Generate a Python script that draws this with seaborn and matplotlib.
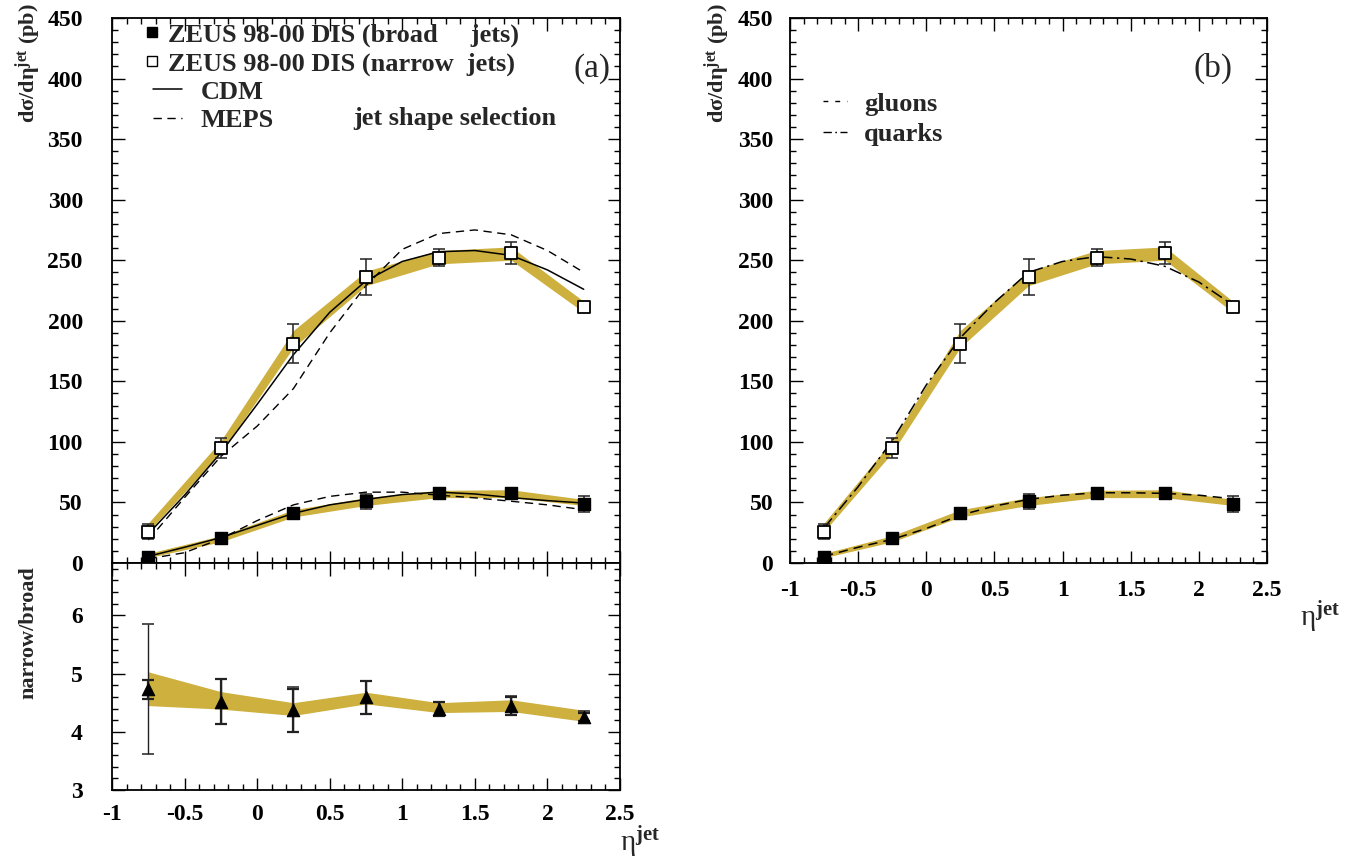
import numpy as np
import pandas as pd
import matplotlib
matplotlib.use("Agg")
import matplotlib.pyplot as plt
import seaborn as sns
from matplotlib.ticker import MultipleLocator, FixedLocator, FixedFormatter
from matplotlib.lines import Line2D

# ---------------- data ----------------
eta = [-0.75, -0.25, 0.25, 0.75, 1.25, 1.75, 2.25]
narrow = [26, 95, 181, 236, 252, 256, 211]
narrow_err = [6, 8, 16, 15, 7, 9, 3]
narrow_band_lo = [26, 91, 178, 229, 247, 250, 207]
narrow_band_hi = [33, 101, 192, 241, 258, 261, 216]
broad = [5, 21, 41, 51, 57.5, 57.5, 49]
broad_err = [1, 1.5, 2.5, 6, 2.5, 2.5, 6.5]
broad_band_lo = [4.4, 17.5, 38, 47.5, 54, 54, 47.5]
broad_band_hi = [8, 22.5, 44, 54, 60, 60.5, 52.5]

ratio = [4.73, 4.52, 4.37, 4.59, 4.39, 4.44, 4.25]
ratio_err_lo = [1.12, 0.38, 0.37, 0.28, 0.12, 0.16, 0.07]
ratio_err_hi = [1.12, 0.38, 0.40, 0.28, 0.12, 0.17, 0.11]
ratio_stat = [0.16, 0.38, 0.37, 0.28, 0.12, 0.16, 0.07]
ratio_band_lo = [4.45, 4.39, 4.28, 4.48, 4.33, 4.35, 4.18]
ratio_band_hi = [5.03, 4.69, 4.50, 4.68, 4.50, 4.55, 4.37]

model_eta = [-0.75, -0.5, -0.25, 0.0, 0.25, 0.5, 0.75, 1.0, 1.25, 1.5, 1.75, 2.0, 2.25]
cdm_narrow = [24, 56, 91, 131, 172, 207, 233, 249, 257, 258, 254, 242, 226]
meps_narrow = [19, 54, 88, 113, 144, 190, 229, 259, 272, 275, 271, 258, 240]
cdm_broad = [5.5, 13, 21, 31, 41, 48, 52.5, 56.5, 58.5, 57, 54, 51.5, 49.5]
meps_broad = [3.5, 8.5, 20, 35, 48, 55, 58.5, 58.5, 56, 53.8, 51, 48, 44]
quarks = [29, 63, 101, 147, 186, 215, 240, 249, 253, 251, 245, 232, 213]
gluons = [5.5, 13, 19.5, 28.5, 39.5, 47, 52.5, 56, 58, 58, 57.5, 56, 53]

x_ticks = [-1, -0.5, 0, 0.5, 1, 1.5, 2, 2.5]
x_ticklabels = ["-1", "-0.5", "0", "0.5", "1", "1.5", "2", "2.5"]
y_ticks = [0, 50, 100, 150, 200, 250, 300, 350, 400, 450]
y_ticklabels = [str(v) for v in y_ticks]
r_ticks = [3, 4, 5, 6]
r_ticklabels = ["3", "4", "5", "6"]

leg_data = ["ZEUS 98-00 DIS (broad     jets)", "ZEUS 98-00 DIS (narrow  jets)"]
leg_models = ["CDM", "MEPS"]
leg_flavour = ["gluons", "quarks"]
ylabel = "d\u03c3/d\u03b7$^{\\mathbf{jet}}$ (pb)"
xlabel = "\u03b7$^{\\mathbf{jet}}$"

# ---------------- style ----------------
sns.set_theme(style="ticks")
plt.rcParams["font.family"] = ["Liberation Serif", "DejaVu Serif"]
plt.rcParams["font.weight"] = "bold"
plt.rcParams["mathtext.fontset"] = "custom"
plt.rcParams["mathtext.bf"] = "Liberation Serif:bold"
plt.rcParams["mathtext.rm"] = "Liberation Serif:bold"
plt.rcParams["mathtext.it"] = "Liberation Serif:bold:italic"

GOLD = "#CDB03D"
DASH = (0, (6, 4))
DASHDOT = (0, (8, 3, 1.5, 3))

W, H = 1356, 860
fig = plt.figure(figsize=(W / 100, H / 100), dpi=100)
fig.patch.set_facecolor("white")

def px_axes(left, top, right, bottom):
    return fig.add_axes([left / W, (H - bottom) / H, (right - left) / W, (bottom - top) / H])

ax_a = px_axes(112, 18, 620, 563)
ax_r = px_axes(112, 563, 620, 790)
ax_b = px_axes(790, 18, 1267, 563)

TICKFS = 17

def style_axis(ax, ylim, yminor, ylabels, yticks, show_x, ypad, xpad):
    ax.set_facecolor("white")
    ax.set_xlim(-1, 2.5)
    ax.set_ylim(*ylim)
    ax.xaxis.set_major_locator(FixedLocator(x_ticks))
    ax.xaxis.set_minor_locator(MultipleLocator(0.1))
    ax.yaxis.set_major_locator(FixedLocator(yticks))
    ax.yaxis.set_minor_locator(MultipleLocator(yminor))
    if show_x:
        ax.xaxis.set_major_formatter(FixedFormatter(x_ticklabels))
    else:
        ax.set_xticklabels([])
    ax.yaxis.set_major_formatter(FixedFormatter(ylabels))
    ax.tick_params(which="both", direction="in", top=True, right=True,
                   colors="black", width=1.0)
    ax.tick_params(which="major", length=9)
    ax.tick_params(which="minor", length=4.5)
    ax.tick_params(axis="x", which="major", labelsize=TICKFS, pad=xpad)
    ax.tick_params(axis="y", which="major", labelsize=TICKFS, pad=ypad)
    for lab in ax.get_xticklabels() + ax.get_yticklabels():
        lab.set_fontweight("bold")
    for sp in ax.spines.values():
        sp.set_linewidth(1.3)
        sp.set_color("black")
    ax.set_xlabel("")
    ax.set_ylabel("")

def draw_cross_sections(ax):
    ax.fill_between(eta, narrow_band_lo, narrow_band_hi, color=GOLD, lw=0, zorder=1)
    ax.fill_between(eta, broad_band_lo, broad_band_hi, color=GOLD, lw=0, zorder=1)
    ax.errorbar(eta, narrow, yerr=narrow_err, fmt="none", ecolor="#222222",
                elinewidth=1.1, capsize=4, capthick=1.1, zorder=4)
    ax.errorbar(eta, broad, yerr=broad_err, fmt="none", ecolor="#222222",
                elinewidth=1.1, capsize=4, capthick=1.1, zorder=4)
    sns.scatterplot(x=eta, y=narrow, marker="s", s=85, color="white",
                    edgecolor="black", linewidth=1.3, zorder=6, ax=ax)
    sns.scatterplot(x=eta, y=broad, marker="s", s=85, color="black",
                    edgecolor="black", linewidth=1.0, zorder=6, ax=ax)

# ---------------- panel (a) ----------------
draw_cross_sections(ax_a)
sns.lineplot(x=model_eta, y=cdm_narrow, color="black", lw=1.1, ax=ax_a, zorder=3)
sns.lineplot(x=model_eta, y=cdm_broad, color="black", lw=1.1, ax=ax_a, zorder=3)
sns.lineplot(x=model_eta, y=meps_narrow, color="black", lw=1.0, linestyle=DASH, ax=ax_a, zorder=3)
sns.lineplot(x=model_eta, y=meps_broad, color="black", lw=1.0, linestyle=DASH, ax=ax_a, zorder=3)
style_axis(ax_a, (0, 450), 10, y_ticklabels, y_ticks, False, 21, 10)

LEGFS = 19
h_data = [Line2D([], [], marker="s", ls="none", color="black", markersize=6.5),
          Line2D([], [], marker="s", ls="none", markerfacecolor="white",
                 markeredgecolor="black", markersize=6.5, markeredgewidth=1.0)]
leg1 = ax_a.legend(h_data, leg_data, loc="upper left", bbox_to_anchor=(0.058, 0.991),
                   frameon=False, handlelength=0.8, handletextpad=0.2,
                   labelspacing=0.2, borderpad=0, borderaxespad=0,
                   prop={"weight": "bold", "size": LEGFS})
ax_a.add_artist(leg1)
h_mod = [Line2D([], [], color="black", lw=1.1),
         Line2D([], [], color="black", lw=1.0, ls=DASH)]
leg2 = ax_a.legend(h_mod, leg_models, loc="upper left", bbox_to_anchor=(0.081, 0.886),
                   frameon=False, handlelength=1.1, handletextpad=0.7,
                   labelspacing=0.2, borderpad=0, borderaxespad=0,
                   prop={"weight": "bold", "size": LEGFS})
ax_a.text(0.474, 0.8165, "jet shape selection", transform=ax_a.transAxes,
          ha="left", va="center", fontsize=LEGFS, fontweight="bold")
ax_a.text(0.945, 0.908, "(a)", transform=ax_a.transAxes, ha="center", va="center",
          fontsize=24, fontweight="normal")

# ---------------- ratio panel ----------------
ax_r.fill_between(eta, ratio_band_lo, ratio_band_hi, color=GOLD, lw=0, zorder=1)
ax_r.errorbar(eta, ratio, yerr=[ratio_err_lo, ratio_err_hi], fmt="none", ecolor="#222222",
              elinewidth=1.0, capsize=4, capthick=1.1, zorder=4)
ax_r.errorbar(eta, ratio, yerr=ratio_stat, fmt="none", ecolor="#222222",
              elinewidth=1.6, capsize=4, capthick=1.6, zorder=4)
sns.scatterplot(x=eta, y=ratio, marker="^", s=80, color="black", edgecolor="black",
                linewidth=0.8, zorder=6, ax=ax_r)
style_axis(ax_r, (3, 6.9), 0.2, r_ticklabels, r_ticks, True, 21, 10)

# ---------------- panel (b) ----------------
draw_cross_sections(ax_b)
sns.lineplot(x=model_eta, y=quarks, color="black", lw=1.1, linestyle=DASHDOT, ax=ax_b, zorder=3)
sns.lineplot(x=model_eta, y=gluons, color="black", lw=1.1, linestyle=DASH, ax=ax_b, zorder=3)
style_axis(ax_b, (0, 450), 10, y_ticklabels, y_ticks, True, 12, 12)
h_fl = [Line2D([], [], color="black", lw=1.0, ls=(0, (3.5, 5))),
        Line2D([], [], color="black", lw=1.0, ls=(0, (6, 2.5, 1.2, 2.5)))]
ax_b.legend(h_fl, leg_flavour, loc="upper left", bbox_to_anchor=(0.069, 0.864),
            frameon=False, handlelength=0.92, handletextpad=0.65, labelspacing=0.27,
            borderpad=0, borderaxespad=0, prop={"weight": "bold", "size": LEGFS})
ax_b.text(0.887, 0.908, "(b)", transform=ax_b.transAxes, ha="center", va="center",
          fontsize=24, fontweight="normal")

# ---------------- axis titles ----------------
fig.text(28 / W, 1 - 3 / H, ylabel, rotation=90, ha="center", va="top",
         fontsize=16, fontweight="bold")
fig.text(28 / W, 1 - 566 / H, "narrow/broad", rotation=90, ha="center", va="top",
         fontsize=16, fontweight="bold")
fig.text(717 / W, 1 - 3 / H, ylabel, rotation=90, ha="center", va="top",
         fontsize=16, fontweight="bold")
fig.text(660 / W, 1 - 852 / H, xlabel, ha="right", va="baseline", fontsize=21,
         fontweight="normal")
fig.text(1340 / W, 1 - 627 / H, xlabel, ha="right", va="baseline", fontsize=21,
         fontweight="normal")

fig.savefig("out.png", dpi=100, facecolor="white")
